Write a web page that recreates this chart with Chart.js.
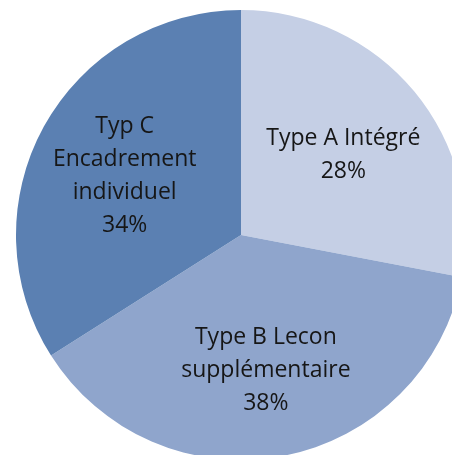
<!DOCTYPE html>
<html><head><meta charset="utf-8">
<script src="https://cdn.jsdelivr.net/npm/chart.js@4.4.0/dist/chart.umd.min.js"></script>
<style>
html,body{margin:0;padding:0;background:#fff;overflow:hidden;width:452px;height:455px;}
#wrap{position:absolute;left:0;top:0;width:482px;height:470px;}
</style></head>
<body>
<div id="wrap"><canvas id="c"></canvas></div>
<script>
const categories = ["Type A Intégré", "Type B Lecon supplémentaire", "Typ C Encadrement individuel"];
const labelLines = [["Type A Intégré"], ["Type B Lecon", "supplémentaire"], ["Typ C", "Encadrement", "individuel"]];
const values = [28, 38, 34];
const colors = ["#C5CFE5", "#8FA5CC", "#5B80B2"];

const labelPlugin = {
  id: 'pieLabels',
  afterDatasetsDraw(chart) {
    const ctx = chart.ctx;
    const meta = chart.getDatasetMeta(0);
    const total = values.reduce((a, b) => a + b, 0);
    ctx.save();
    ctx.fillStyle = '#161616';
    ctx.font = '23px "Open Sans", sans-serif';
    ctx.textAlign = 'center';
    ctx.textBaseline = 'middle';
    const lh = 33;
    meta.data.forEach((arc, i) => {
      const p = arc.getProps(['x', 'y', 'startAngle', 'endAngle', 'outerRadius'], true);
      const mid = (p.startAngle + p.endAngle) / 2;
      const r = p.outerRadius * 0.59;
      const cx = p.x + Math.cos(mid) * r;
      const cy = p.y + Math.sin(mid) * r + 5;
      const lines = labelLines[i].concat([Math.round(values[i] / total * 100) + '%']);
      const y0 = cy - (lines.length - 1) * lh / 2;
      lines.forEach((t, k) => ctx.fillText(t, cx, y0 + k * lh));
    });
    ctx.restore();
  }
};

new Chart(document.getElementById('c'), {
  type: 'pie',
  data: {
    labels: categories,
    datasets: [{ data: values, backgroundColor: colors, borderWidth: 0 }]
  },
  options: {
    responsive: true,
    maintainAspectRatio: false,
    animation: false,
    layout: { padding: 10 },
    plugins: { legend: { display: false }, tooltip: { enabled: false } }
  },
  plugins: [labelPlugin]
});
</script>
</body></html>
